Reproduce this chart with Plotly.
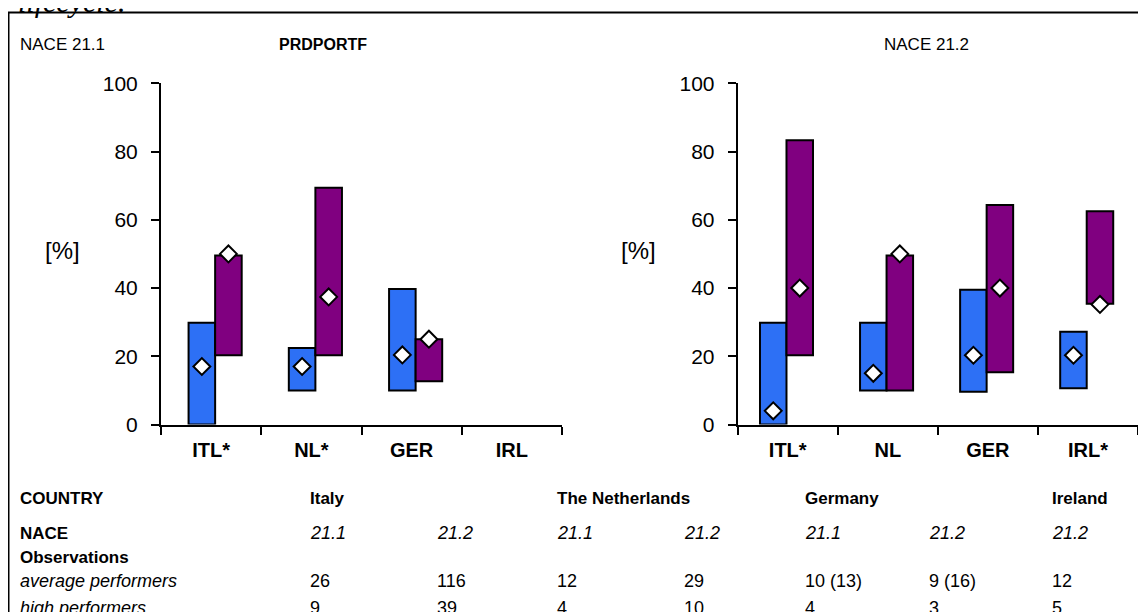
import plotly.graph_objects as go

W, H = 1146, 612
OFF = 8  # page body margin in which the figure sits

# ---------------- data ----------------
countries_211 = ["ITL*", "NL*", "GER", "IRL"]
avg_low_211 = [0, 10, 10, None]
avg_high_211 = [29.8, 22.4, 39.7, None]
avg_mark_211 = [17, 17, 20.4, None]
top_low_211 = [20.3, 20.3, 12.7, None]
top_high_211 = [49.5, 69.4, 25, None]
top_mark_211 = [50, 37.4, 25, None]

countries_212 = ["ITL*", "NL", "GER", "IRL*"]
avg_low_212 = [0, 10, 9.6, 10.6]
avg_high_212 = [29.8, 29.8, 39.5, 27.2]
avg_mark_212 = [4, 15, 20.3, 20.3]
top_low_212 = [20.3, 10, 15.3, 35.4]
top_high_212 = [83.3, 49.5, 64.3, 62.5]
top_mark_212 = [40, 50, 40, 35.2]

y_ticks = [0, 20, 40, 60, 80, 100]

table_header = ["COUNTRY", "Italy", "", "The Netherlands", "", "Germany", "", "Ireland"]
table_nace = ["NACE", "21.1", "21.2", "21.1", "21.2", "21.1", "21.2", "21.2"]
table_avg = ["average performers", "26", "116", "12", "29", "10 (13)", "9 (16)", "12"]
table_high = ["high performers", "9", "39", "4", "10", "4", "3", "5"]

BLUE = "#2D70F5"
PURPLE = "#800080"
SANS = "Liberation Sans, Arial, sans-serif"


def px_x(p):
    return (p - OFF) / W


def px_y(p):
    return 1 - (p - OFF) / H


fig = go.Figure()

BAR_W = 0.265


def add_panel(xa, ya, cats, alo, ahi, amk, tlo, thi, tmk, shift):
    idx = list(range(len(cats)))
    xb = [i + shift - BAR_W / 2 for i in idx]
    xp = [i + shift + BAR_W / 2 for i in idx]
    fig.add_trace(go.Bar(
        x=xb, y=[(h - l) if h is not None else None for l, h in zip(alo, ahi)],
        base=alo, width=BAR_W, xaxis=xa, yaxis=ya,
        marker=dict(color=BLUE, line=dict(color="black", width=2)),
        showlegend=False, hoverinfo="skip"))
    fig.add_trace(go.Bar(
        x=xp, y=[(h - l) if h is not None else None for l, h in zip(tlo, thi)],
        base=tlo, width=BAR_W, xaxis=xa, yaxis=ya,
        marker=dict(color=PURPLE, line=dict(color="black", width=2)),
        showlegend=False, hoverinfo="skip"))
    fig.add_trace(go.Scatter(
        x=xb + xp, y=amk + tmk, mode="markers", xaxis=xa, yaxis=ya,
        marker=dict(symbol="diamond", size=13, color="white",
                    line=dict(color="black", width=2)),
        showlegend=False, hoverinfo="skip", cliponaxis=False))


add_panel("x", "y", countries_211, avg_low_211, avg_high_211, avg_mark_211,
          top_low_211, top_high_211, top_mark_211, 0.04)
add_panel("x2", "y2", countries_212, avg_low_212, avg_high_212, avg_mark_212,
          top_low_212, top_high_212, top_mark_212, -0.0125)

y_dom = [px_y(424.5), px_y(83.3)]


def xaxis_cfg(dom, cats):
    return dict(
        domain=dom, range=[-0.5, len(cats) - 0.5],
        tickvals=list(range(len(cats))),
        ticktext=["<b>%s</b>" % c for c in cats],
        ticks="", showgrid=False, zeroline=False,
        showline=True, linecolor="black", linewidth=2,
        tickfont=dict(family=SANS, size=20, color="black"),
        ticklabelstandoff=6, automargin=False,
        minor=dict(tickvals=[i - 0.5 for i in range(len(cats) + 1)],
                   ticks="outside", ticklen=8, tickwidth=2, tickcolor="black",
                   showgrid=False),
        fixedrange=True,
    )


def yaxis_cfg(anchor):
    return dict(
        domain=y_dom, range=[0, 100], tickvals=y_ticks,
        ticks="outside", ticklen=8, tickwidth=2, tickcolor="black",
        showgrid=False, zeroline=False, showline=True, linecolor="black",
        linewidth=2, anchor=anchor, automargin=False,
        tickfont=dict(family=SANS, size=21, color="black"),
        ticklabelstandoff=9, fixedrange=True,
    )


fig.update_layout(
    width=W, height=H,
    margin=dict(l=0, r=0, t=0, b=0, pad=0, autoexpand=False),
    paper_bgcolor="white", plot_bgcolor="rgba(0,0,0,0)",
    barmode="overlay",
    xaxis=dict(xaxis_cfg([px_x(161), px_x(562)], countries_211), anchor="y"),
    yaxis=yaxis_cfg("x"),
    xaxis2=dict(xaxis_cfg([px_x(737.7), px_x(1138)], countries_212), anchor="y2"),
    yaxis2=yaxis_cfg("x2"),
)

ann = []


def text(x, y, s, size=17, family=SANS, xanchor="left", yanchor="middle"):
    ann.append(dict(x=px_x(x), y=px_y(y), xref="paper", yref="paper",
                    text=s, showarrow=False, xanchor=xanchor, yanchor=yanchor,
                    font=dict(family=family, size=size, color="black")))


# cut-off caption line at the very top
text(16, 20, "<i>lifecycle.</i>", size=30,
     family="Liberation Serif, Times New Roman, serif", yanchor="bottom")

text(18, 44, "NACE 21.1", size=17)
text(323, 44, "<b>PRDPORTF</b>", size=16, xanchor="center")
text(926, 44, "NACE 21.2", size=17, xanchor="center")
text(62, 251, "[%]", size=24, xanchor="center")
text(638, 251, "[%]", size=24, xanchor="center")

cols = [18, 308, 435, 555, 682, 803, 927, 1050]
for i, x in enumerate(cols):
    if table_header[i]:
        text(x, 498, "<b>%s</b>" % table_header[i])
    if i == 0:
        text(x, 533, "<b>%s</b>" % table_nace[i])
    else:
        text(x, 533, "<i>%s</i>" % table_nace[i], size=18)
    if i == 0:
        text(x, 581, "<i>%s</i>" % table_avg[i], size=18)
        text(x, 608, "<i>%s</i>" % table_high[i], size=18)
    else:
        text(x, 581, table_avg[i], size=18)
        text(x, 608, table_high[i], size=18)
text(18, 557, "<b>Observations</b>")

fig.update_layout(annotations=ann)

# frame around the figure
fig.add_shape(type="rect", xref="paper", yref="paper",
              x0=px_x(8.5), x1=px_x(1170), y0=px_y(650), y1=px_y(12.5),
              line=dict(color="black", width=2), fillcolor="rgba(0,0,0,0)",
              layer="below")

fig.write_html("out.html")
